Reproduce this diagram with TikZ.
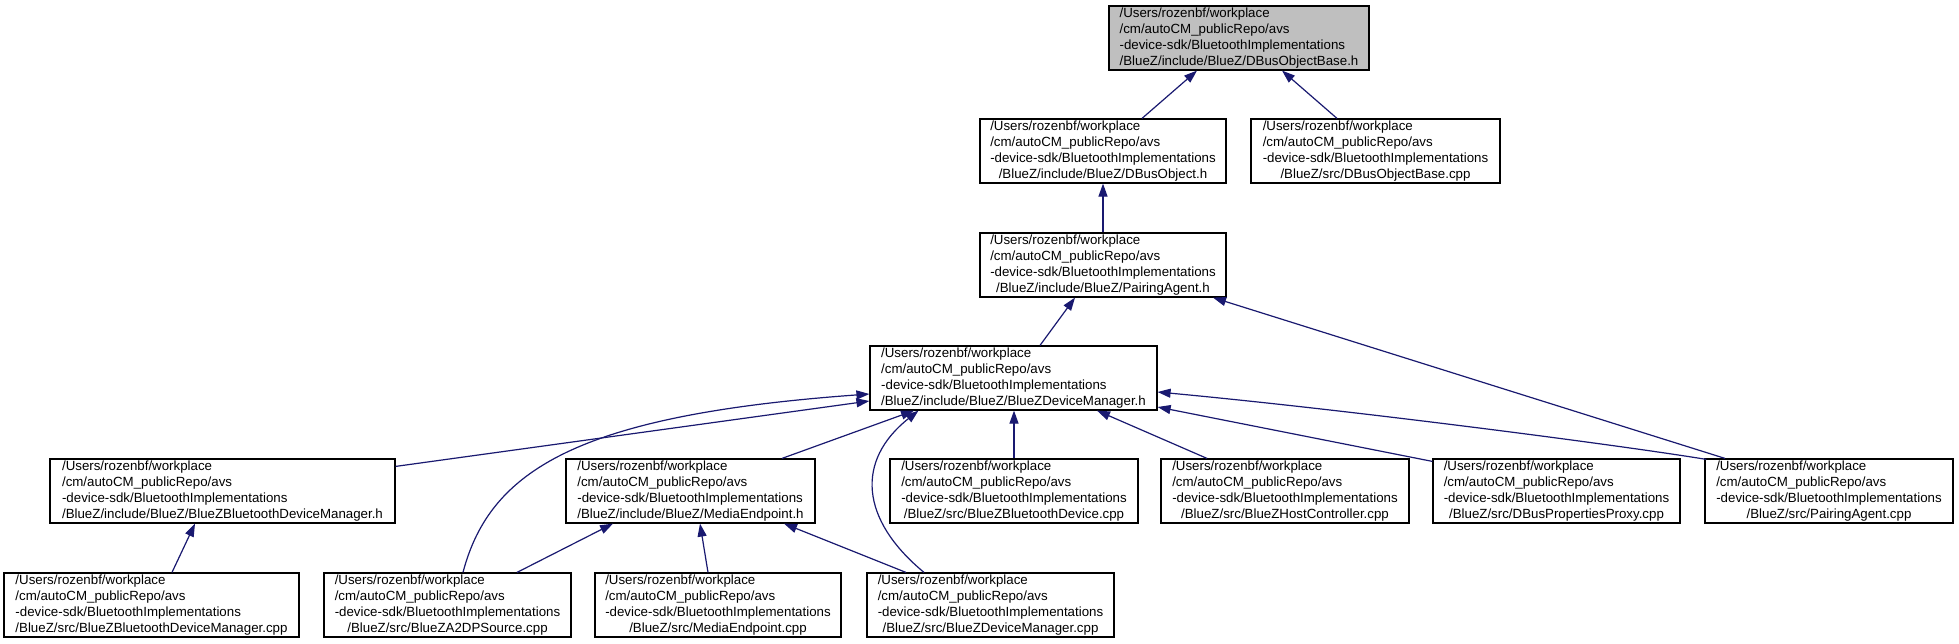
\documentclass[tikz,border=0pt]{standalone}
\usepackage{fontspec}
\setmainfont{Liberation Sans}
\usetikzlibrary{arrows.meta,calc}
\definecolor{edgeblue}{RGB}{25,25,112}
\definecolor{topgrey}{RGB}{191,191,191}
\newcommand\flabel[1]{\begin{tabular}{@{}l@{}}/Users/rozenbf/workplace\\/cm/autoCM\_publicRepo/avs\\-device-sdk/BluetoothImplementations\\\multicolumn{1}{@{}c@{}}{#1}\end{tabular}}
\begin{document}
\begin{tikzpicture}[x=1pt,y=-1pt,
  filebox/.style={draw=black, line width=1.2pt, fill=white, inner xsep=0pt, inner ysep=0pt,
    minimum height=64pt, font=\fontsize{13.3}{16}\selectfont, text=black},
  edge/.style={draw=edgeblue, line width=1.2pt, -{Triangle[length=13pt,width=9pt,fill=edgeblue]}}]
\useasboundingbox (0,0) rectangle (1959,643);
\fill[white] (0,0) rectangle (1959,643);
% row 1
\node[filebox, fill=topgrey, minimum width=260pt] (A) at (1239,38) {\flabel{/BlueZ/include/BlueZ/DBusObjectBase.h}};
% row 2
\node[filebox, minimum width=246pt] (B) at (1103,151) {\flabel{/BlueZ/include/BlueZ/DBusObject.h}};
\node[filebox, minimum width=249pt] (C) at (1375.5,151) {\flabel{/BlueZ/src/DBusObjectBase.cpp}};
% row 3
\node[filebox, minimum width=246pt] (D) at (1103,265) {\flabel{/BlueZ/include/BlueZ/PairingAgent.h}};
% row 4
\node[filebox, minimum width=287pt] (E) at (1013.5,378) {\flabel{/BlueZ/include/BlueZ/BlueZDeviceManager.h}};
% row 5
\node[filebox, minimum width=345pt] (F) at (222.5,491) {\flabel{/BlueZ/include/BlueZ/BlueZBluetoothDeviceManager.h}};
\node[filebox, minimum width=249pt] (G) at (690.5,491) {\flabel{/BlueZ/include/BlueZ/MediaEndpoint.h}};
\node[filebox, minimum width=248pt] (H) at (1014,491) {\flabel{/BlueZ/src/BlueZBluetoothDevice.cpp}};
\node[filebox, minimum width=248pt] (I) at (1285,491) {\flabel{/BlueZ/src/BlueZHostController.cpp}};
\node[filebox, minimum width=247pt] (J) at (1556.5,491) {\flabel{/BlueZ/src/DBusPropertiesProxy.cpp}};
\node[filebox, minimum width=248pt] (K) at (1829,491) {\flabel{/BlueZ/src/PairingAgent.cpp}};
% row 6
\node[filebox, minimum width=295pt] (L) at (151.5,605) {\flabel{/BlueZ/src/BlueZBluetoothDeviceManager.cpp}};
\node[filebox, minimum width=247pt] (M) at (447.5,605) {\flabel{/BlueZ/src/BlueZA2DPSource.cpp}};
\node[filebox, minimum width=246pt] (N) at (718,605) {\flabel{/BlueZ/src/MediaEndpoint.cpp}};
\node[filebox, minimum width=247pt] (O) at (990.5,605) {\flabel{/BlueZ/src/BlueZDeviceManager.cpp}};
% edges
\draw[edge] ([xshift=39pt]B.north) -- ([xshift=-42pt]A.south);
\draw[edge] ([xshift=-38.5pt]C.north) -- ([xshift=43pt]A.south);
\draw[edge] (D.north) -- (B.south);
\draw[edge] ([xshift=26.5pt]E.north) -- ([xshift=-28pt]D.south);
\draw[edge] ([xshift=-104pt]K.north) -- ([xshift=110pt]D.south);
\draw[edge] ([yshift=-8pt]F.north east) -- ([yshift=-23pt]E.west);
\draw[edge] ([xshift=15.5pt]M.north) .. controls +(27,-103) and +(-290,21) .. ([yshift=-16pt]E.west);
\draw[edge] ([xshift=91.5pt]G.north) -- ([xshift=-99.5pt]E.south);
\draw[edge] ([xshift=-66.5pt]O.north) .. controls +(-64,-53) and +(-63,50) .. ([xshift=-95pt]E.south);
\draw[edge] (H.north) -- (H.north |- E.south);
\draw[edge] ([xshift=-78pt]I.north) -- ([xshift=83.5pt]E.south);
\draw[edge] ([yshift=-3pt]J.north west) -- ([yshift=-29pt]E.east);
\draw[edge] ([xshift=2pt,yshift=-1pt]K.north west) .. controls +(-85,-14) and +(193,18) .. ([yshift=-14pt]E.east);
\draw[edge] ([xshift=20.5pt]L.north) -- ([xshift=-27.5pt]F.south);
\draw[edge] ([xshift=69.5pt]M.north) -- ([xshift=-77.5pt]G.south);
\draw[edge] ([xshift=-10pt]N.north) -- ([xshift=9.5pt]G.south);
\draw[edge] ([xshift=-84.5pt]O.north) -- ([xshift=93.5pt]G.south);
\end{tikzpicture}
\end{document}
